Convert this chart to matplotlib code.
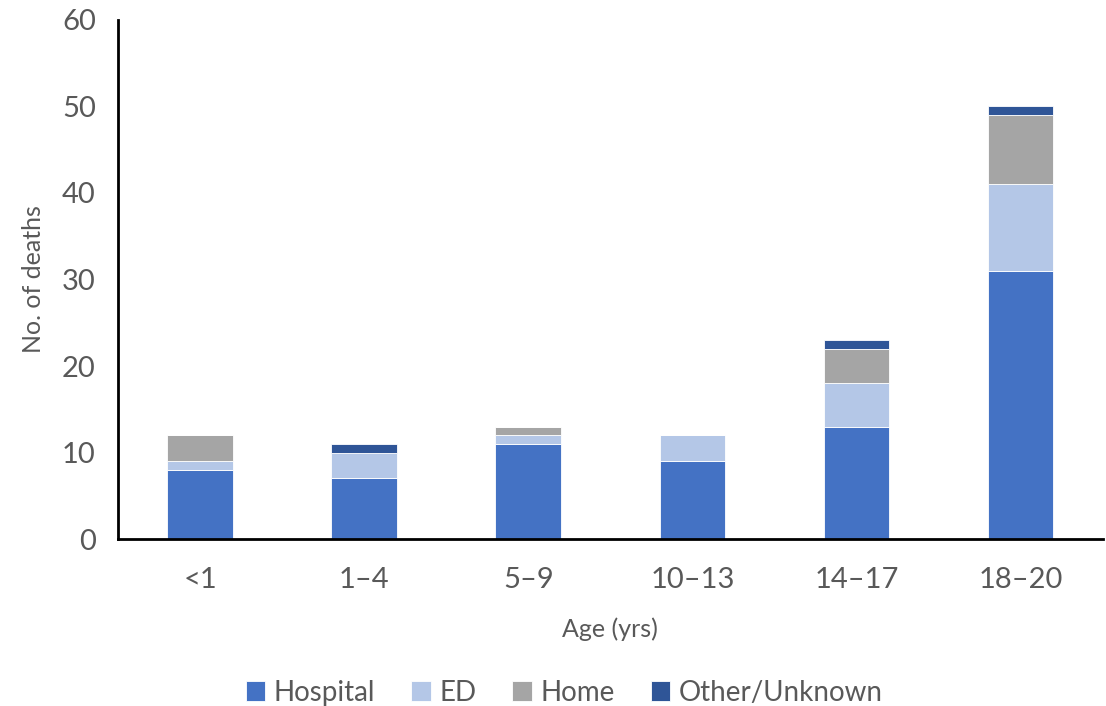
import numpy as np
import matplotlib
matplotlib.use("Agg")
import matplotlib.pyplot as plt

# Data
ages = ["<1", "1\u20134", "5\u20139", "10\u201313", "14\u201317", "18\u201320"]
hospital = [8, 7, 11, 9, 13, 31]
ed = [1, 3, 1, 3, 5, 10]
home = [3, 0, 1, 0, 4, 8]
other = [0, 1, 0, 0, 1, 1]

series = [("Hospital", hospital, "#4472C4"),
          ("ED", ed, "#B4C7E7"),
          ("Home", home, "#A5A5A5"),
          ("Other/Unknown", other, "#2F5597")]

plt.rcParams['font.family'] = ['Lato', 'DejaVu Sans']
grey = "#595959"

fig = plt.figure(figsize=(11.06, 7.06), dpi=100)
ax = fig.add_axes([0.1067, 0.2365, 0.8903, 0.7352])

x = np.arange(len(ages))
bottom = np.zeros(len(ages))
for name, vals, col in series:
    vals = np.array(vals)
    ax.bar(x, vals, 0.4, bottom=bottom, color=col, label=name,
           edgecolor="white", linewidth=0.6)
    bottom += vals

ax.set_xlim(-0.5, len(ages) - 0.5)
ax.set_ylim(0, 60)
ax.set_yticks(range(0, 61, 10))
ax.set_xticks(x)
ax.set_xticklabels(ages)
ax.tick_params(length=0, labelsize=21, colors=grey)
ax.tick_params(axis="x", pad=20)
ax.tick_params(axis="y", pad=16)

for s in ["top", "right"]:
    ax.spines[s].set_visible(False)
for s in ["left", "bottom"]:
    ax.spines[s].set_linewidth(2)
    ax.spines[s].set_color("black")

ax.set_xlabel("Age (yrs)", fontsize=18, color=grey, labelpad=18)
ax.set_ylabel("No. of deaths", fontsize=18, color=grey, labelpad=12)

leg = fig.legend(loc="lower center", bbox_to_anchor=(0.51, -0.035), ncol=4,
                 frameon=False, fontsize=20, handlelength=0.7, handleheight=0.7,
                 handletextpad=0.3, columnspacing=1.3)
for t in leg.get_texts():
    t.set_color(grey)

fig.savefig("out.png", dpi=100)
